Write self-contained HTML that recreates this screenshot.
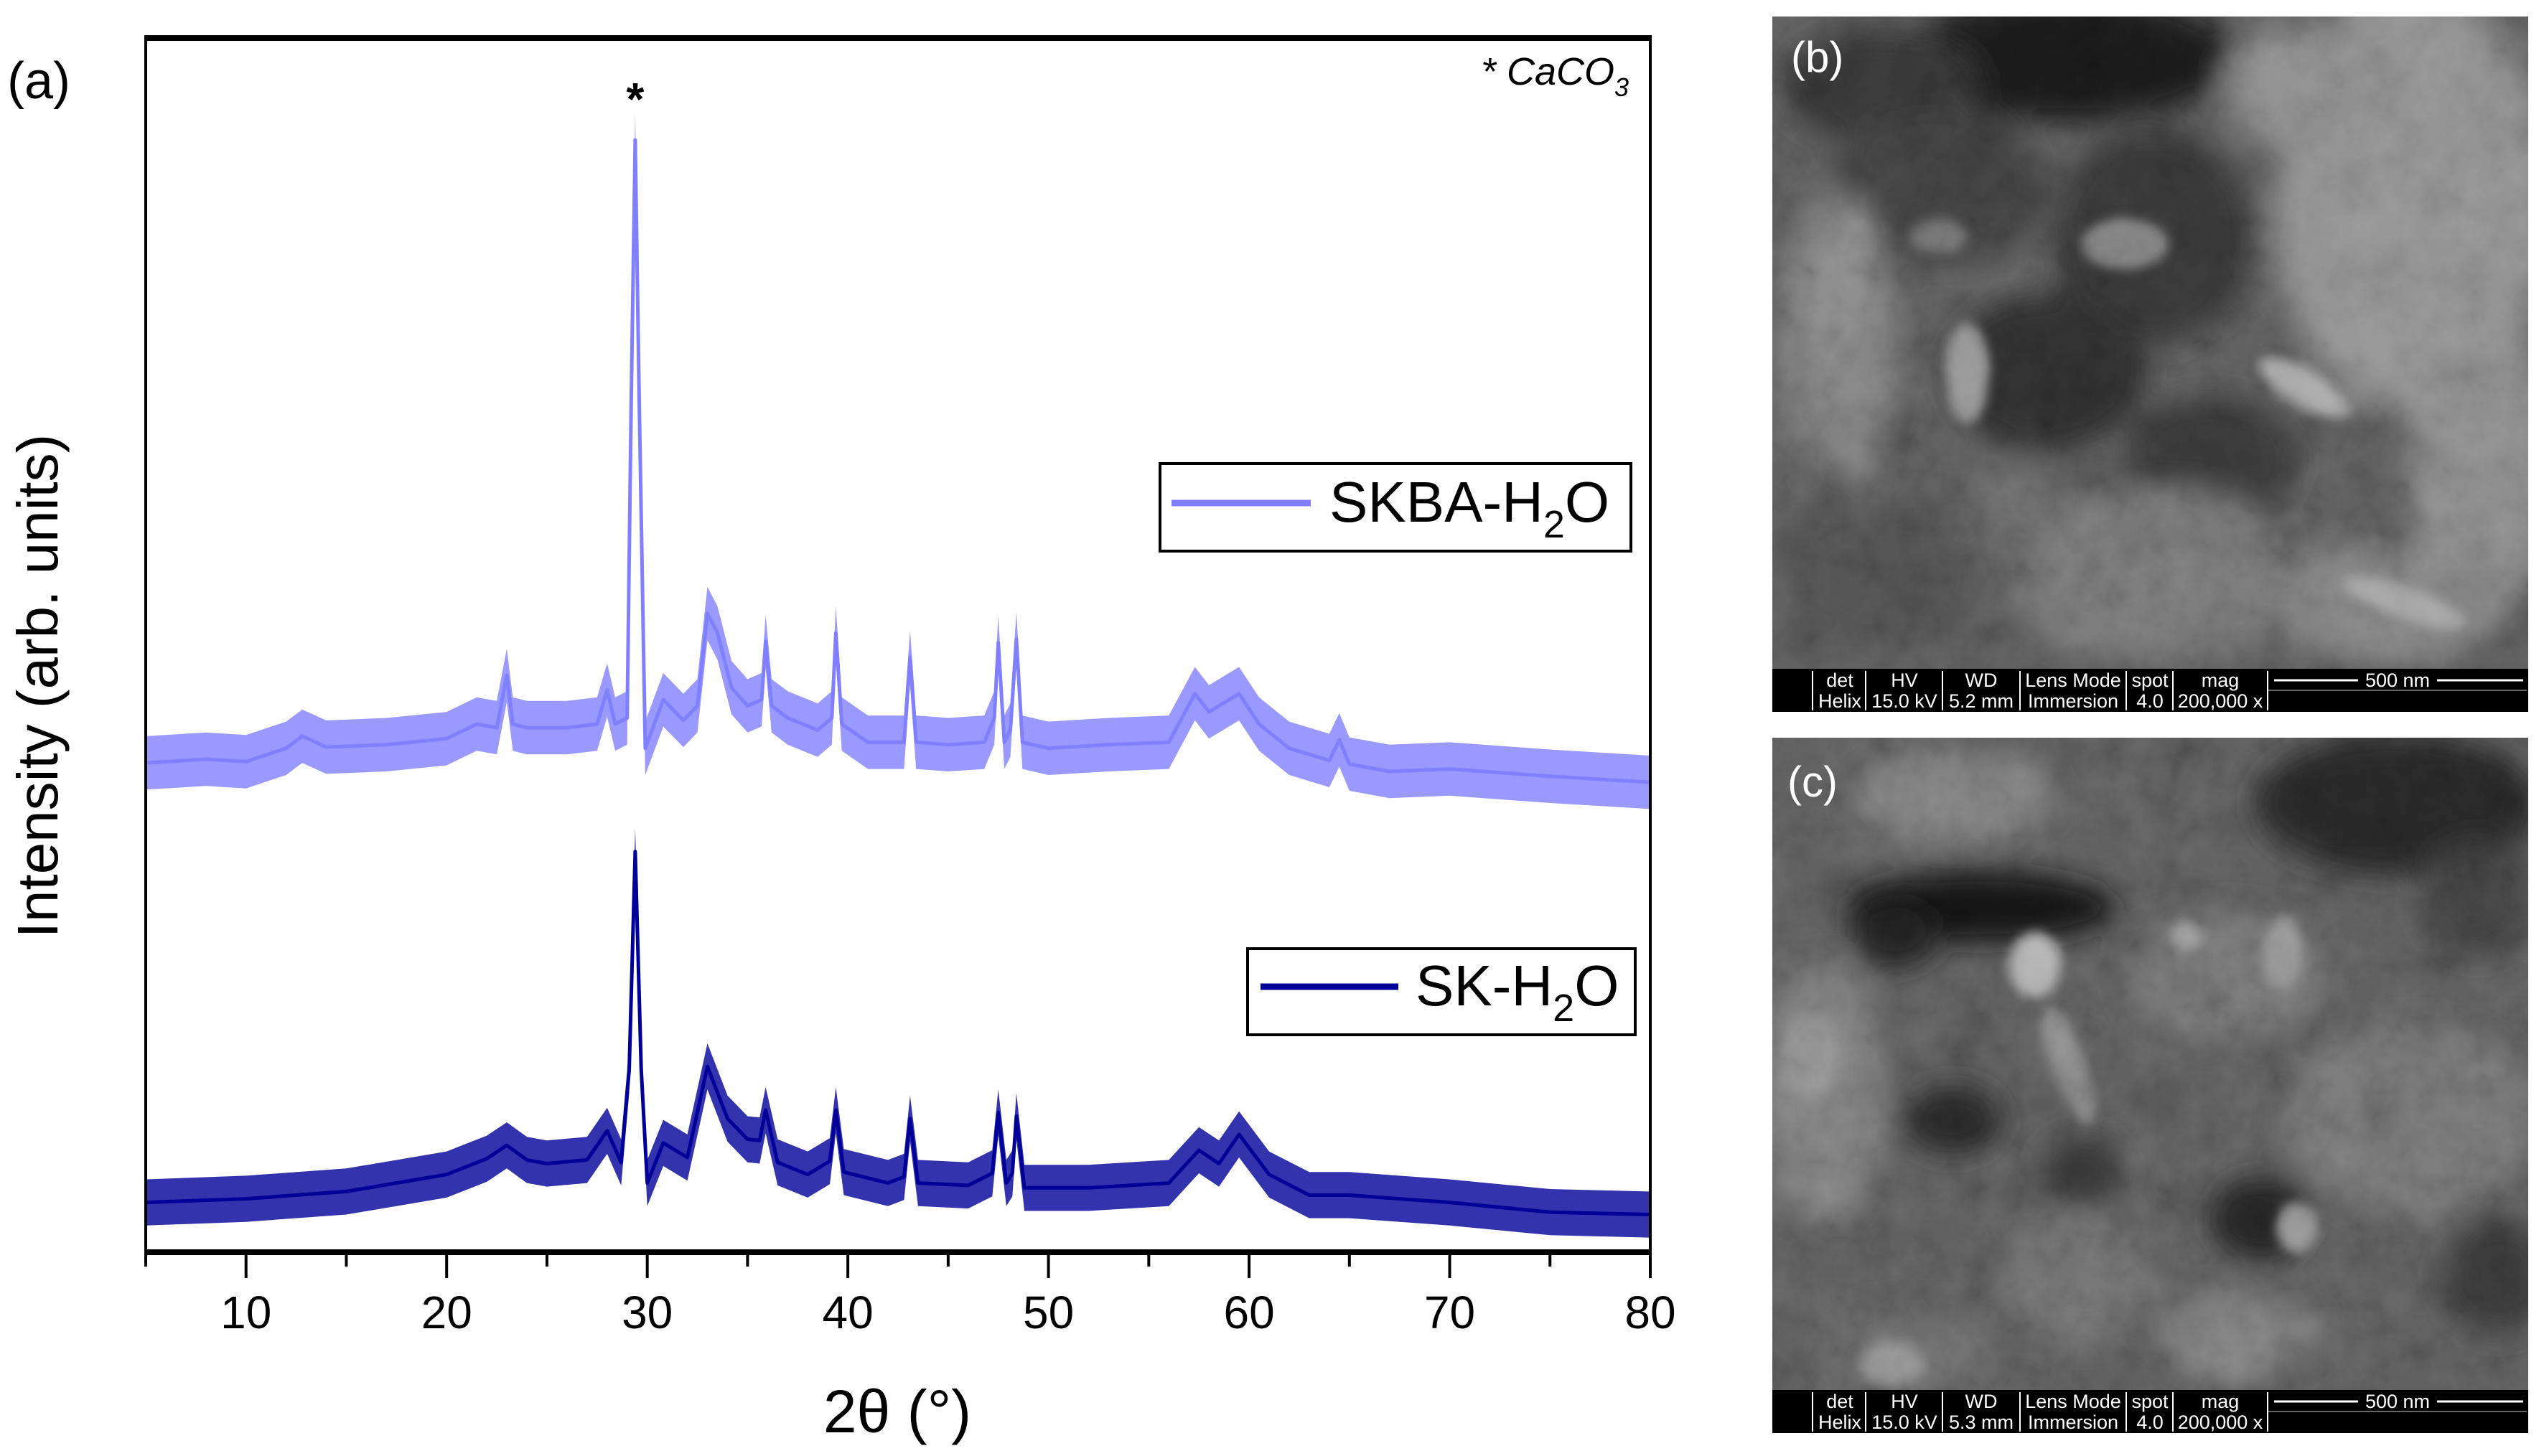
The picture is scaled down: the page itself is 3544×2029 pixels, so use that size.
<!DOCTYPE html>
<html><head><meta charset="utf-8"><style>
html,body{margin:0;padding:0;background:#fff;}
svg{display:block;}
text{font-family:"Liberation Sans",sans-serif;}
</style></head><body>
<svg id="fig" width="3544" height="2029" viewBox="0 0 3544 2029" xmlns="http://www.w3.org/2000/svg">
<defs>
  <filter id="blur20" x="-50%" y="-50%" width="200%" height="200%"><feGaussianBlur stdDeviation="20"/></filter>
  <filter id="blur8" x="-50%" y="-50%" width="200%" height="200%"><feGaussianBlur stdDeviation="8"/></filter>
  <filter id="grain" x="0" y="0" width="100%" height="100%">
    <feTurbulence type="fractalNoise" baseFrequency="0.014" numOctaves="5" seed="7"/>
    <feColorMatrix type="matrix" values="0.6 0.6 0.6 0 -0.42  0.6 0.6 0.6 0 -0.42  0.6 0.6 0.6 0 -0.42  0 0 0 0 1"/>
  </filter>
  <filter id="grain2" x="0" y="0" width="100%" height="100%">
    <feTurbulence type="fractalNoise" baseFrequency="0.03" numOctaves="3" seed="21"/>
    <feColorMatrix type="matrix" values="0.6 0.6 0.6 0 -0.42  0.6 0.6 0.6 0 -0.42  0.6 0.6 0.6 0 -0.42  0 0 0 0 1"/>
  </filter>
  <clipPath id="clipB"><rect x="2469" y="23" width="1053" height="909"/></clipPath>
  <clipPath id="clipC"><rect x="2469" y="1028" width="1053" height="909"/></clipPath>
  <clipPath id="plotClip"><rect x="203" y="55" width="2096" height="1688"/></clipPath>
</defs>

<!-- Panel (a) -->
<text x="10" y="137" font-size="72">(a)</text>
<g id="plot"></g>
<text transform="translate(80,956) rotate(-90)" text-anchor="middle" font-size="80">Intensity (arb. units)</text>
<text x="1250" y="1996" text-anchor="middle" font-size="84">2θ (°)</text>
<text x="2063" y="118" font-size="54" font-style="italic">* CaCO<tspan font-size="36" dy="16">3</tspan></text>

<g>
  <rect x="1616" y="646" width="656" height="122" fill="#fff" stroke="#000" stroke-width="4"/>
  <line x1="1632" y1="701" x2="1826" y2="701" stroke="#8080ff" stroke-width="9"/>
  <text x="1852" y="727" font-size="80">SKBA-H<tspan font-size="54" dy="22">2</tspan><tspan dy="-22">O</tspan></text>
</g>
<g>
  <rect x="1738" y="1322" width="540" height="120" fill="#fff" stroke="#000" stroke-width="4"/>
  <line x1="1756" y1="1375" x2="1948" y2="1375" stroke="#000099" stroke-width="9"/>
  <text x="1972" y="1401" font-size="80">SK-H<tspan font-size="54" dy="22">2</tspan><tspan dy="-22">O</tspan></text>
</g>

<!-- Panel (b) SEM -->
<g>
  <g clip-path="url(#clipB)">
    <rect x="2469" y="23" width="1053" height="909" fill="#626262"/>
    <g filter="url(#blur20)">
      <ellipse cx="2880" cy="80" rx="230" ry="90" fill="#1a1a1a"/>
      <ellipse cx="2620" cy="120" rx="140" ry="80" fill="#3a3a3a"/>
      <ellipse cx="2700" cy="260" rx="150" ry="110" fill="#444"/>
      <ellipse cx="3000" cy="330" rx="140" ry="150" fill="#3a3a3a"/>
      <ellipse cx="2850" cy="520" rx="140" ry="110" fill="#333"/>
      <ellipse cx="3080" cy="640" rx="120" ry="90" fill="#3c3c3c"/>
      <ellipse cx="3360" cy="280" rx="190" ry="300" fill="#a2a2a2"/>
      <ellipse cx="3460" cy="640" rx="100" ry="200" fill="#9a9a9a"/>
      <ellipse cx="3220" cy="120" rx="120" ry="90" fill="#9a9a9a"/>
      <ellipse cx="2560" cy="470" rx="80" ry="200" fill="#8a8a8a"/>
      <ellipse cx="2620" cy="800" rx="150" ry="110" fill="#575757"/>
      <ellipse cx="3000" cy="800" rx="200" ry="120" fill="#7e7e7e"/>
      <ellipse cx="3330" cy="840" rx="160" ry="80" fill="#8e8e8e"/>
      <ellipse cx="2800" cy="700" rx="80" ry="60" fill="#6e6e6e"/>
    </g>
    <g filter="url(#blur8)">
      <ellipse cx="2740" cy="520" rx="30" ry="70" fill="#aaa"/>
      <ellipse cx="2560" cy="420" rx="30" ry="120" fill="#999" transform="rotate(15 2560 420)"/>
      <ellipse cx="3210" cy="540" rx="70" ry="25" fill="#c4c4c4" transform="rotate(30 3210 540)"/>
      <ellipse cx="2960" cy="340" rx="60" ry="35" fill="#8a8a8a"/>
      <ellipse cx="3350" cy="840" rx="90" ry="22" fill="#bdbdbd" transform="rotate(20 3350 840)"/>
      <ellipse cx="2700" cy="330" rx="40" ry="25" fill="#7a7a7a"/>
    </g>
    <rect x="2469" y="23" width="1053" height="909" filter="url(#grain)" style="mix-blend-mode:overlay" opacity="0.2"/>
    <rect x="2469" y="23" width="1053" height="909" filter="url(#grain2)" style="mix-blend-mode:overlay" opacity="0.12"/>
    <rect x="2469" y="23" width="1053" height="909" fill="#000" opacity="0.15"/>
  </g>
  <text x="2495" y="100" font-size="60" fill="#fff">(b)</text>
  <rect x="2469" y="932" width="1053" height="60" fill="#000"/>
  <g fill="#fff" font-size="27" text-anchor="middle">
    <text x="2563" y="957">det</text><text x="2563" y="986">Helix</text>
    <text x="2653" y="957">HV</text><text x="2653" y="986">15.0 kV</text>
    <text x="2760" y="957">WD</text><text x="2760" y="986">5.2 mm</text>
    <text x="2888" y="957">Lens Mode</text><text x="2888" y="986">Immersion</text>
    <text x="2995" y="957">spot</text><text x="2995" y="986">4.0</text>
    <text x="3093" y="957">mag</text><text x="3093" y="986">200,000 x</text>
    <text x="3340" y="957">500 nm</text>
  </g>
  <g stroke="#fff" stroke-width="2">
    <line x1="2525" y1="935" x2="2525" y2="990"/><line x1="2599" y1="935" x2="2599" y2="990"/>
    <line x1="2706" y1="935" x2="2706" y2="990"/><line x1="2814" y1="935" x2="2814" y2="990"/>
    <line x1="2962" y1="935" x2="2962" y2="990"/><line x1="3027" y1="935" x2="3027" y2="990"/>
    <line x1="3159" y1="935" x2="3159" y2="990"/>
    <line x1="3168" y1="948" x2="3285" y2="948" stroke-width="3"/><line x1="3395" y1="948" x2="3515" y2="948" stroke-width="3"/>
    <line x1="3160" y1="962" x2="3520" y2="962" stroke="#666"/>
  </g>
</g>

<!-- Panel (c) SEM -->
<g>
  <g clip-path="url(#clipC)">
    <rect x="2469" y="1028" width="1053" height="909" fill="#636363"/>
    <g filter="url(#blur20)">
      <ellipse cx="2760" cy="1265" rx="190" ry="50" fill="#141414"/>
      <ellipse cx="2640" cy="1300" rx="60" ry="50" fill="#222"/>
      <ellipse cx="3340" cy="1120" rx="200" ry="100" fill="#2a2a2a"/>
      <ellipse cx="3450" cy="1250" rx="80" ry="80" fill="#444"/>
      <ellipse cx="2720" cy="1110" rx="140" ry="60" fill="#8c8c8c"/>
      <ellipse cx="2540" cy="1520" rx="80" ry="180" fill="#8c8c8c"/>
      <ellipse cx="2720" cy="1560" rx="70" ry="50" fill="#2a2a2a"/>
      <ellipse cx="3150" cy="1700" rx="70" ry="60" fill="#262626"/>
      <ellipse cx="2900" cy="1630" rx="60" ry="50" fill="#3a3a3a"/>
      <ellipse cx="3360" cy="1560" rx="180" ry="130" fill="#7c7c7c"/>
      <ellipse cx="3100" cy="1360" rx="140" ry="90" fill="#7a7a7a"/>
      <ellipse cx="2900" cy="1780" rx="110" ry="90" fill="#777"/>
      <ellipse cx="3120" cy="1860" rx="110" ry="60" fill="#888"/>
      <ellipse cx="2660" cy="1880" rx="110" ry="60" fill="#727272"/>
      <ellipse cx="3480" cy="1780" rx="80" ry="80" fill="#3c3c3c"/>
    </g>
    <g filter="url(#blur8)">
      <ellipse cx="2835" cy="1345" rx="35" ry="45" fill="#cfcfcf"/>
      <ellipse cx="2880" cy="1480" rx="22" ry="90" fill="#9a9a9a" transform="rotate(-20 2880 1480)"/>
      <ellipse cx="3180" cy="1330" rx="28" ry="50" fill="#ababab"/>
      <ellipse cx="3045" cy="1305" rx="22" ry="20" fill="#b0b0b0"/>
      <ellipse cx="3200" cy="1710" rx="28" ry="35" fill="#aaa"/>
      <ellipse cx="2635" cy="1900" rx="45" ry="30" fill="#a4a4a4"/>
      <ellipse cx="2520" cy="1470" rx="40" ry="60" fill="#a0a0a0"/>
    </g>
    <rect x="2469" y="1028" width="1053" height="909" filter="url(#grain)" style="mix-blend-mode:overlay" opacity="0.2"/>
    <rect x="2469" y="1028" width="1053" height="909" filter="url(#grain2)" style="mix-blend-mode:overlay" opacity="0.12"/>
    <rect x="2469" y="1028" width="1053" height="909" fill="#000" opacity="0.15"/>
  </g>
  <text x="2490" y="1110" font-size="60" fill="#fff">(c)</text>
  <rect x="2469" y="1937" width="1053" height="60" fill="#000"/>
  <g fill="#fff" font-size="27" text-anchor="middle">
    <text x="2563" y="1962">det</text><text x="2563" y="1991">Helix</text>
    <text x="2653" y="1962">HV</text><text x="2653" y="1991">15.0 kV</text>
    <text x="2760" y="1962">WD</text><text x="2760" y="1991">5.3 mm</text>
    <text x="2888" y="1962">Lens Mode</text><text x="2888" y="1991">Immersion</text>
    <text x="2995" y="1962">spot</text><text x="2995" y="1991">4.0</text>
    <text x="3093" y="1962">mag</text><text x="3093" y="1991">200,000 x</text>
    <text x="3340" y="1962">500 nm</text>
  </g>
  <g stroke="#fff" stroke-width="2">
    <line x1="2525" y1="1940" x2="2525" y2="1995"/><line x1="2599" y1="1940" x2="2599" y2="1995"/>
    <line x1="2706" y1="1940" x2="2706" y2="1995"/><line x1="2814" y1="1940" x2="2814" y2="1995"/>
    <line x1="2962" y1="1940" x2="2962" y2="1995"/><line x1="3027" y1="1940" x2="3027" y2="1995"/>
    <line x1="3159" y1="1940" x2="3159" y2="1995"/>
    <line x1="3168" y1="1953" x2="3285" y2="1953" stroke-width="3"/><line x1="3395" y1="1953" x2="3515" y2="1953" stroke-width="3"/>
    <line x1="3160" y1="1967" x2="3520" y2="1967" stroke="#666"/>
  </g>
</g>
</svg>
<script>
// ---- chart data ----
const skbaX = [5,8,10,12,12.8,14,17,20,21.5,22.5,23,23.3,24,26,27.5,28,28.4,29,29.2,29.4,29.6,29.9,30.8,31.8,32.5,33,33.5,34.2,35,35.7,35.9,36.2,37,38.5,39.2,39.4,39.7,41,42.8,43.1,43.4,45,46.8,47.3,47.5,47.8,48.1,48.4,48.7,50,53,56,57.3,58,59.5,60.5,62,64,64.5,65,67,70,75,80];
const skbaY = [40.3,40.6,40.4,41.5,42.5,41.6,41.8,42.3,43.5,43.2,47.5,43.5,43.2,43.2,43.5,46.3,43.5,44,70,91.6,70,41.5,45.5,43.8,45,52.6,51,46.5,45,45.5,50.3,45,44,43,44,51,43.5,42,42,49,42,41.8,42,44,50.2,42,43,50.5,42,41.5,41.8,42,46,44.5,46,43.5,41.5,40.5,42.2,40.2,39.6,39.8,39.2,38.7];
const skX = [5,10,15,20,22,23,24,25,27,28,28.7,29.1,29.4,29.7,30,30.8,32,33,34,35,35.6,35.9,36.5,38,39.1,39.4,39.8,42,42.8,43.1,43.5,46,47.2,47.5,47.9,48.2,48.4,48.8,52,56,57.5,58.5,59.5,61,63,65,70,75,80];
const skY = [4.1,4.4,5,6.4,7.7,8.8,7.6,7.3,7.6,10,7.4,15,33,15,5.7,9,7.8,15.3,11,9.3,9.2,11.7,7.4,6.4,7.5,11.7,6.6,5.7,6.2,11,5.7,5.5,6.5,11.5,5.7,6.5,11.2,5.3,5.3,5.7,8.4,7.3,9.7,6.4,4.7,4.7,4.1,3.3,3.1];
const xTicks = [10,20,30,40,50,60,70,80];
const xMinor = [5,15,25,35,45,55,65,75];
const noiseBand = [2.2, 1.9]; // half-width of detector noise band (intensity units) for SKBA, SK

const NS = 'http://www.w3.org/2000/svg';
const L = 203, R = 2299, T = 53, B = 1745;
const xScale = v => L + (v - 5) / 75 * (R - L);
const yScale = v => B - v / 100 * (B - T);
const g = document.getElementById('plot');

function mk(tag, attrs, parent) {
  const el = document.createElementNS(NS, tag);
  for (const k in attrs) el.setAttribute(k, attrs[k]);
  (parent || g).appendChild(el);
  return el;
}

function drawSeries(xs, ys, color, band, name) {
  const grp = mk('g', {'clip-path': 'url(#plotClip)'});
  
  
  const up = xs.map((x, i) => xScale(x).toFixed(1) + ',' + yScale(ys[i] + band).toFixed(1));
  const dn = xs.map((x, i) => xScale(x).toFixed(1) + ',' + yScale(ys[i] - band).toFixed(1)).reverse();
  const poly = mk('polygon', {points: up.concat(dn).join(' '), fill: color, 'fill-opacity': '0.8'}, grp);
  
  
  const line = mk('polyline', {points: xs.map((x, i) => xScale(x).toFixed(1) + ',' + yScale(ys[i]).toFixed(1)).join(' '), fill: 'none', stroke: color, 'stroke-width': '5', 'stroke-linejoin': 'round'}, grp);
  
  
}

drawSeries(skbaX, skbaY, '#8080ff', noiseBand[0], 'series-skba-h2o');
drawSeries(skX, skY, '#000099', noiseBand[1], 'series-sk-h2o');

// frame
const fl = mk('line', {x1: L, y1: T, x2: L, y2: B, stroke: '#000', 'stroke-width': 4});
 
const fr = mk('line', {x1: R, y1: T, x2: R, y2: B, stroke: '#000', 'stroke-width': 4});
 
const ft = mk('line', {x1: L - 2, y1: T, x2: R + 2, y2: T, stroke: '#000', 'stroke-width': 8});
 
const fb = mk('line', {x1: L - 2, y1: B, x2: R + 2, y2: B, stroke: '#000', 'stroke-width': 8});
 

xTicks.forEach(v => {
  const t = mk('line', {x1: xScale(v), y1: B, x2: xScale(v), y2: B + 36, stroke: '#000', 'stroke-width': 4});
  
  
  const lb = mk('text', {x: xScale(v), y: B + 106, 'text-anchor': 'middle', 'font-size': 64});
  lb.textContent = v;
  
  
});
xMinor.forEach(v => {
  const t = mk('line', {x1: xScale(v), y1: B, x2: xScale(v), y2: B + 20, stroke: '#000', 'stroke-width': 4});
  
  
});

const star = mk('text', {x: xScale(29.4), y: 160, 'text-anchor': 'middle', 'font-size': 64, 'font-weight': 'bold'});
star.textContent = '*';


</script>
</body></html>
